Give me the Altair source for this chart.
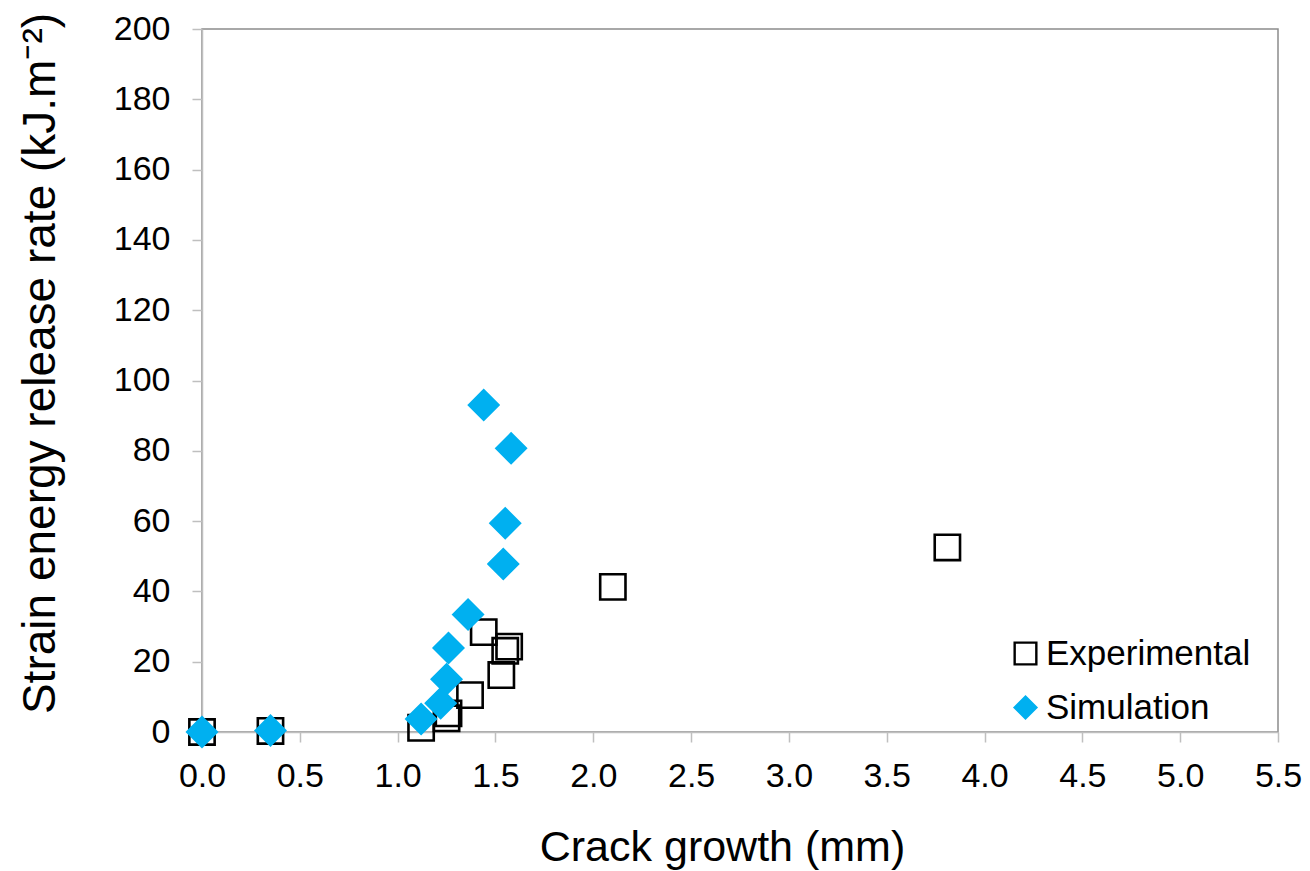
import altair as alt
import pandas as pd

# Experimental data (hollow squares)
exp_x = [0.00, 0.35, 1.12, 1.25, 1.26, 1.37, 1.44, 1.53, 1.55, 1.57, 2.10, 3.81]
exp_y = [0.0, 0.3, 1.2, 3.9, 5.3, 10.5, 28.4, 16.2, 23.1, 24.3, 41.3, 52.5]

# Simulation data (blue diamonds)
sim_x = [0.00, 0.35, 1.12, 1.22, 1.25, 1.26, 1.36, 1.54, 1.55, 1.58, 1.44]
sim_y = [0.0, 0.4, 3.7, 8.2, 15.0, 23.9, 33.4, 47.8, 59.4, 80.7, 93.0]

series_names = ["Experimental", "Simulation"]
x_ticks = [0.0, 0.5, 1.0, 1.5, 2.0, 2.5, 3.0, 3.5, 4.0, 4.5, 5.0, 5.5]
y_ticks = [0, 20, 40, 60, 80, 100, 120, 140, 160, 180, 200]

df_exp = pd.DataFrame({"x": exp_x, "y": exp_y, "series": series_names[0]})
df_sim = pd.DataFrame({"x": sim_x, "y": sim_y, "series": series_names[1]})

FONT = "Liberation Sans"

x_enc = alt.X("x:Q",
              scale=alt.Scale(domain=[0, 5.5], nice=False, zero=False),
              axis=alt.Axis(values=x_ticks, format=".1f", title="Crack growth (mm)",
                            grid=False, tickSize=10, labelPadding=17, labelFlush=False,
                            titleFontSize=43,
                            titleX=520, titleY=128, titleBaseline="alphabetic"))
y_enc = alt.Y("y:Q",
              scale=alt.Scale(domain=[0, 200], nice=False),
              axis=alt.Axis(values=y_ticks, title="Strain energy release rate (kJ.m⁻²)",
                            grid=False, tickSize=10, labelPadding=22, labelFlush=False,
                            titleFontSize=46,
                            titleX=-148, titleY=334, titleBaseline="alphabetic",
                            titleAngle=-90))
shape_enc = alt.Shape("series:N", scale=alt.Scale(domain=series_names, range=["square", "diamond"]), title=None)
fill_enc = alt.Fill("series:N", scale=alt.Scale(domain=series_names, range=["transparent", "#00B0F0"]), title=None)
stroke_enc = alt.Stroke("series:N", scale=alt.Scale(domain=series_names, range=["#000000", "#00B0F0"]), title=None)

exp_layer = alt.Chart(df_exp).mark_point(size=640, strokeWidth=2.6, opacity=1).encode(
    x=x_enc, y=y_enc, shape=shape_enc, fill=fill_enc, stroke=stroke_enc)
sim_layer = alt.Chart(df_sim).mark_point(size=860, strokeWidth=2.6, opacity=1).encode(
    x=x_enc, y=y_enc, shape=shape_enc, fill=fill_enc, stroke=stroke_enc)

chart = alt.layer(exp_layer, sim_layer).properties(
    width=1076,
    height=703,
    padding={"left": 202, "top": 29, "right": 32, "bottom": 139},
    autosize=alt.AutoSizeParams(type="none"),
).configure_view(
    stroke="#8c8c8c",
    strokeWidth=1.5,
).configure_axis(
    domainColor="#bfbfbf",
    domainWidth=1.5,
    tickColor="#bfbfbf",
    tickWidth=1.5,
    labelFont=FONT,
    labelFontSize=34,
    labelColor="#000000",
    titleFont=FONT,
    titleFontWeight="normal",
    titleColor="#000000",
).configure_legend(
    orient="none",
    legendX=806,
    legendY=607,
    labelFont=FONT,
    labelFontSize=35,
    labelColor="#000000",
    labelLimit=400,
    symbolSize=470,
    symbolStrokeWidth=2.4,
    labelOffset=3,
    rowPadding=18,
    padding=0,
)

chart.save("out.html", embed_options={"renderer": "svg", "actions": False})
